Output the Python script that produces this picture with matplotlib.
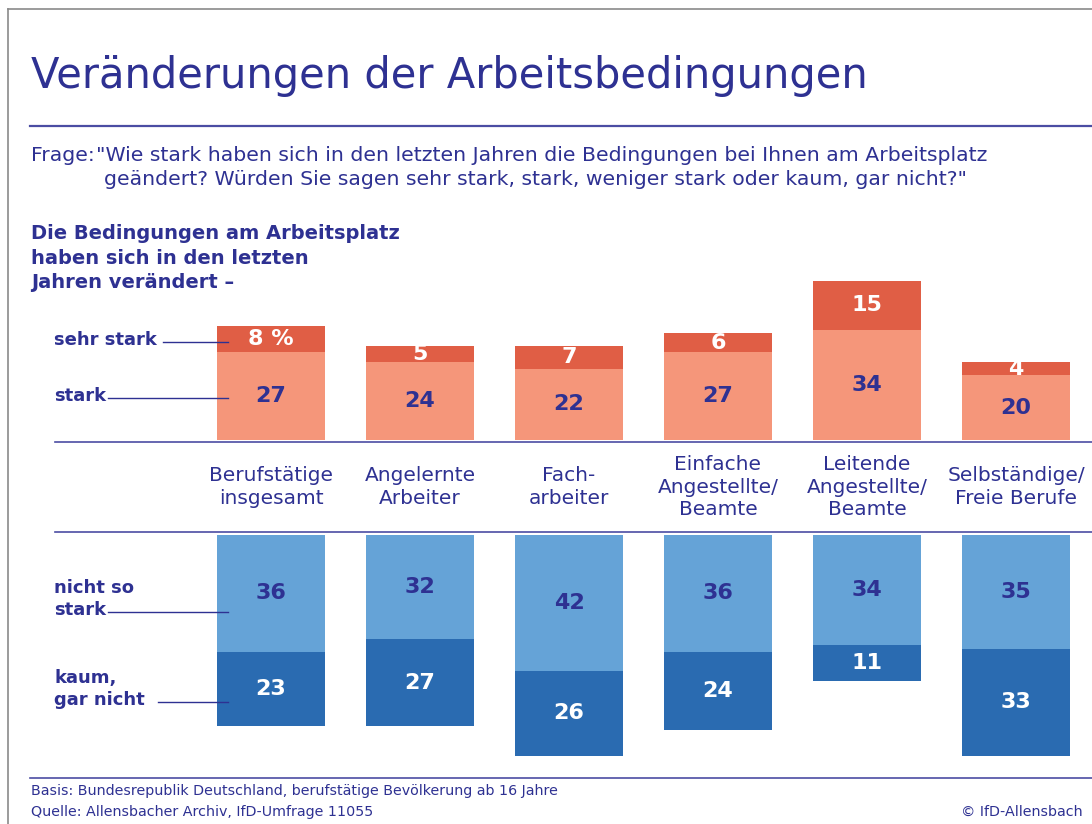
import matplotlib
matplotlib.use("Agg")
import matplotlib.pyplot as plt

plt.rcParams['font.family'] = ['DejaVu Sans']

# Werte aus der Grafik
kategorien = ['Berufstätige\ninsgesamt', 'Angelernte\nArbeiter', 'Fach-\narbeiter',
              'Einfache\nAngestellte/\nBeamte', 'Leitende\nAngestellte/\nBeamte',
              'Selbständige/\nFreie Berufe']
sehr_stark = [8, 5, 7, 6, 15, 4]
stark = [27, 24, 22, 27, 34, 20]
nicht_so_stark = [36, 32, 42, 36, 34, 35]
kaum = [23, 27, 26, 24, 11, 33]

# Farben
NAVY = '#2E3192'
LINIE = '#4B4DA3'
ROT_DUNKEL = '#E05E45'
ROT_HELL = '#F5967A'
BLAU_HELL = '#65A3D7'
BLAU_DUNKEL = '#2A6BB1'

W, H = 1092, 824
fig = plt.figure(figsize=(W / 100, H / 100), dpi=100)

PX = 3.245          # pixel pro Prozentpunkt
ABSTAND = 149       # pixel zwischen Balkenmitten
X0 = 271            # Mitte erster Balken
breite = 108 / ABSTAND
x = list(range(len(kategorien)))
xlim = (-X0 / ABSTAND, (W - X0) / ABSTAND)

# obere Balken (verändert)
oben_max = 55
ax1 = fig.add_axes([0, 1 - 440 / H, 1, oben_max * PX / H])
ax1.bar(x, stark, width=breite, color=ROT_HELL, linewidth=0)
ax1.bar(x, sehr_stark, width=breite, bottom=stark, color=ROT_DUNKEL, linewidth=0)
ax1.set_xlim(*xlim)
ax1.set_ylim(0, oben_max)
ax1.axis('off')

for i in x:
    ax1.text(i, stark[i] / 2, str(stark[i]), ha='center', va='center',
             color=NAVY, fontsize=16, fontweight='bold')
    lab = f'{sehr_stark[i]} %' if i == 0 else str(sehr_stark[i])
    ax1.text(i, stark[i] + sehr_stark[i] / 2, lab, ha='center', va='center',
             color='white', fontsize=16, fontweight='bold')

# untere Balken (nicht verändert)
unten_max = 70
ax2 = fig.add_axes([0, 1 - (535 + unten_max * PX) / H, 1, unten_max * PX / H])
ax2.bar(x, nicht_so_stark, width=breite, color=BLAU_HELL, linewidth=0)
ax2.bar(x, kaum, width=breite, bottom=nicht_so_stark, color=BLAU_DUNKEL, linewidth=0)
ax2.set_xlim(*xlim)
ax2.set_ylim(unten_max, 0)
ax2.axis('off')

for i in x:
    ax2.text(i, nicht_so_stark[i] / 2, str(nicht_so_stark[i]), ha='center', va='center',
             color=NAVY, fontsize=16, fontweight='bold')
    ax2.text(i, nicht_so_stark[i] + kaum[i] / 2, str(kaum[i]), ha='center', va='center',
             color='white', fontsize=16, fontweight='bold')

# Overlay in Pixelkoordinaten für Texte und Linien
ov = fig.add_axes([0, 0, 1, 1], zorder=5)
ov.set_xlim(0, W)
ov.set_ylim(H, 0)
ov.axis('off')
ov.patch.set_alpha(0)

# Rahmen
ov.plot([8, 8], [9, H], color='#8a8a8a', lw=1.2)
ov.plot([8, W], [9, 9], color='#8a8a8a', lw=1.2)

ov.text(31, 76, 'Veränderungen der Arbeitsbedingungen', fontsize=30,
        color=NAVY, va='center', ha='left')
ov.plot([30, W], [126, 126], color=LINIE, lw=1.6)

ov.text(31, 155, 'Frage:', fontsize=14.7, color=NAVY, va='center')
ov.text(96, 155, '"Wie stark haben sich in den letzten Jahren die Bedingungen bei Ihnen am Arbeitsplatz',
        fontsize=14.7, color=NAVY, va='center')
ov.text(104, 179, 'geändert? Würden Sie sagen sehr stark, stark, weniger stark oder kaum, gar nicht?"',
        fontsize=14.7, color=NAVY, va='center')

ov.text(31, 258, 'Die Bedingungen am Arbeitsplatz\nhaben sich in den letzten\nJahren verändert –',
        fontsize=14, fontweight='bold', color=NAVY, va='center', linespacing=1.38)

# Legendenbeschriftungen mit Linien
ov.text(54, 340, 'sehr stark', fontsize=13, fontweight='bold', color=NAVY, va='center')
ov.plot([163, 228], [342, 342], color=NAVY, lw=1)
ov.text(54, 396, 'stark', fontsize=13, fontweight='bold', color=NAVY, va='center')
ov.plot([108, 228], [398, 398], color=NAVY, lw=1)
ov.text(54, 599, 'nicht so\nstark', fontsize=13, fontweight='bold', color=NAVY, va='center',
        linespacing=1.25)
ov.plot([108, 228], [612, 612], color=NAVY, lw=1)
ov.text(54, 689, 'kaum,\ngar nicht', fontsize=13, fontweight='bold', color=NAVY, va='center',
        linespacing=1.25)
ov.plot([158, 228], [702, 702], color=NAVY, lw=1)

# Trennlinien um die Kategorien
ov.plot([55, W], [442, 442], color=LINIE, lw=1.2)
ov.plot([55, W], [532, 532], color=LINIE, lw=1.2)
for i, kat in enumerate(kategorien):
    ov.text(X0 + i * ABSTAND, 487, kat, ha='center', va='center', fontsize=14.5,
            color=NAVY, linespacing=1.22, multialignment='center')

# Fußzeile
ov.plot([30, W], [778, 778], color=LINIE, lw=1.2)
ov.text(31, 791, 'Basis: Bundesrepublik Deutschland, berufstätige Bevölkerung ab 16 Jahre',
        fontsize=10.3, color=NAVY, va='center')
ov.text(31, 812, 'Quelle: Allensbacher Archiv, IfD-Umfrage 11055',
        fontsize=10.3, color=NAVY, va='center')
ov.text(1083, 812, '© IfD-Allensbach', fontsize=10.3, color=NAVY, va='center', ha='right')

fig.savefig('out.png', dpi=100)
